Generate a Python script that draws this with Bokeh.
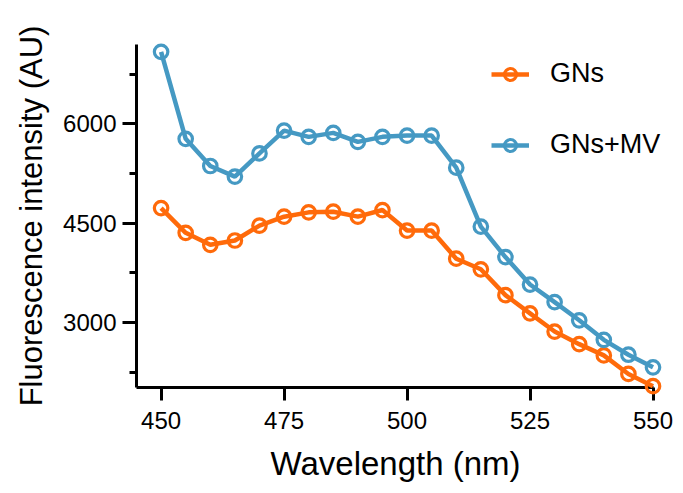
from bokeh.plotting import figure
from bokeh.models import Range1d, FixedTicker, Legend, LegendItem, Title
from bokeh.embed import file_html
from bokeh.resources import INLINE

wavelength = [450, 455, 460, 465, 470, 475, 480, 485, 490, 495, 500,
              505, 510, 515, 520, 525, 530, 535, 540, 545, 550]
gns = [4730, 4356, 4175, 4240, 4465, 4600, 4665, 4675, 4600, 4700, 4390,
       4390, 3965, 3805, 3415, 3140, 2865, 2675, 2505, 2225, 2040]
gns_mv = [7089, 5775, 5365, 5205, 5555, 5900, 5805, 5865, 5730, 5805, 5825,
          5825, 5340, 4450, 3990, 3575, 3310, 3035, 2740, 2515, 2325]
series_names = ["GNs", "GNs+MV"]
x_ticks = [450, 475, 500, 525, 550]
y_ticks = [3000, 4500, 6000]
y_minor_ticks = [2250, 3750, 5250, 6750]
x_label = "Wavelength (nm)"
y_label = "Fluorescence intensity (AU)"

ORANGE = "#FF6A0A"
BLUE = "#4599C3"
FONT = "Liberation Sans"

p = figure(width=683, height=493, output_backend="svg", toolbar_location=None,
           x_range=Range1d(445, 556.2), y_range=Range1d(2020, 7200),
           min_border_left=136, min_border_right=0, min_border_top=44,
           min_border_bottom=103)
p.outline_line_color = None
p.xgrid.visible = False
p.ygrid.visible = False
p.background_fill_color = "white"
p.border_fill_color = "white"

items = []
for vals, color, name in [(gns, ORANGE, series_names[0]), (gns_mv, BLUE, series_names[1])]:
    r1 = p.line(wavelength, vals, line_color=color, line_width=4.5, level="overlay")
    r2 = p.scatter(wavelength, vals, marker="circle", size=13.5, line_color=color,
                   line_width=3.2, fill_alpha=0, level="overlay")
    items.append(LegendItem(label=name, renderers=[r1, r2]))

legend = Legend(items=items, location=(355, 227), border_line_color=None,
                background_fill_alpha=0, padding=0, margin=0,
                glyph_width=38, glyph_height=30, label_height=30, spacing=40,
                label_standoff=21, label_text_font=FONT, label_text_font_size="27px",
                label_text_color="black")
p.add_layout(legend)

for ax in [p.xaxis[0], p.yaxis[0]]:
    ax.axis_line_width = 3
    ax.axis_line_color = "black"
    ax.major_tick_line_width = 3
    ax.minor_tick_line_width = 3
    ax.major_tick_in = 0
    ax.minor_tick_in = 0
    ax.major_label_text_font = FONT
    ax.major_label_text_font_size = "24px"
    ax.major_label_text_color = "black"

xa = p.xaxis[0]
xa.ticker = FixedTicker(ticks=x_ticks)
xa.bounds = (445, 550)
xa.major_tick_out = 13
xa.minor_tick_out = 0
xa.major_label_standoff = 11

ya = p.yaxis[0]
ya.ticker = FixedTicker(ticks=y_ticks, minor_ticks=y_minor_ticks)
ya.major_tick_out = 14
ya.minor_tick_out = 7
ya.major_label_standoff = 6

xt = Title(text=x_label, align="left", offset=134, standoff=23,
           text_font=FONT, text_font_size="33px", text_font_style="normal",
           text_color="black")
p.add_layout(xt, "below")

yt = Title(text=y_label, align="center", offset=18, standoff=23,
           text_font=FONT, text_font_size="31px", text_font_style="normal",
           text_color="black")
p.add_layout(yt, "left")

open("out.html", "w").write(file_html(p, INLINE))
